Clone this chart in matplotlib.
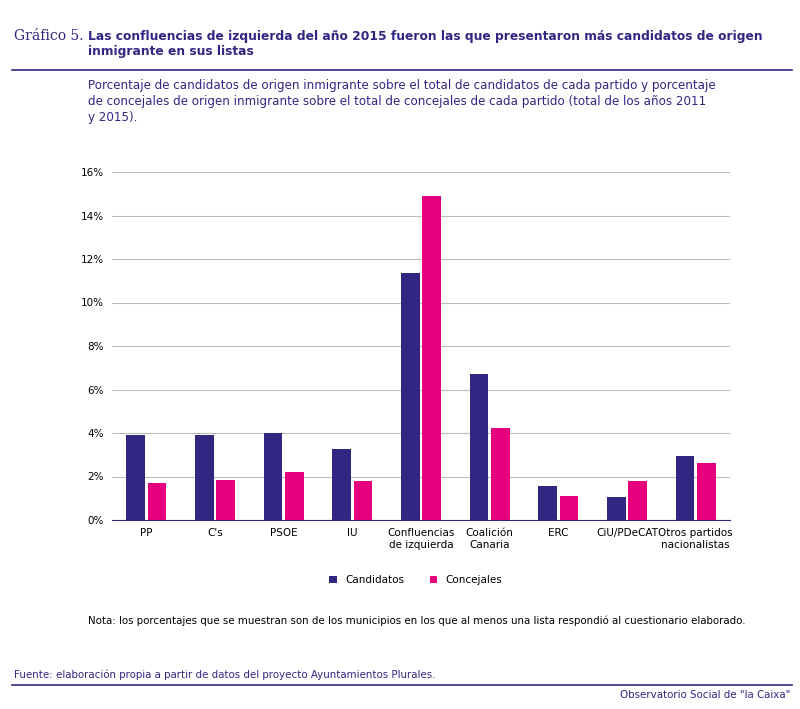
import matplotlib.pyplot as plt
import numpy as np
from matplotlib.lines import Line2D

partidos = ["PP", "C's", "PSOE", "IU", "Confluencias\nde izquierda", "Coalición\nCanaria",
            "ERC", "CiU/PDeCAT", "Otros partidos\nnacionalistas"]
candidatos = [3.9, 3.9, 4.0, 3.25, 11.35, 6.7, 1.55, 1.05, 2.95]
concejales = [1.7, 1.85, 2.2, 1.8, 14.9, 4.25, 1.1, 1.8, 2.6]
yticks = [0, 2, 4, 6, 8, 10, 12, 14, 16]

navy = "#312783"
magenta = "#e6007e"
W, H = 800, 709

fig = plt.figure(figsize=(8, 7.09), dpi=100)
ax = fig.add_axes([112 / W, 1 - 520 / H, 618 / W, 348 / H])

x = np.arange(len(partidos))
w = 0.27
ax.bar(x - w / 2 - 0.02, candidatos, w, color=navy, label="Candidatos")
ax.bar(x + w / 2 + 0.02, concejales, w, color=magenta, label="Concejales")
ax.set_ylim(0, 16)
ax.set_xlim(-0.5, len(partidos) - 0.5)
ax.set_yticks(yticks)
ax.set_yticklabels([f"{v}%" for v in yticks], fontsize=7.5)
ax.set_xticks(x)
ax.set_xticklabels(partidos, fontsize=7.5)
ax.tick_params(length=0, pad=6)
ax.grid(axis="y", color="#bbbbbb", lw=0.8)
ax.set_axisbelow(True)
for s in ["top", "right", "left"]:
    ax.spines[s].set_visible(False)
ax.spines["bottom"].set_color(navy)

fig.legend(loc="center", bbox_to_anchor=(0.52, 1 - 580 / H), ncol=2, frameon=False,
           fontsize=7.5, handlelength=0.7, handleheight=0.7, columnspacing=2.5)

def hline(y, x0=12 / W, x1=792 / W):
    fig.add_artist(Line2D([x0, x1], [1 - y / H, 1 - y / H], color=navy, lw=1.2))

fig.text(14 / W, 1 - 36 / H, "Gráfico 5.", fontsize=10, family="DejaVu Serif", color=navy, va="center")
fig.text(88 / W, 1 - 44 / H, "Las confluencias de izquierda del año 2015 fueron las que presentaron más candidatos de origen\ninmigrante en sus listas",
         fontsize=8.8, weight="bold", color=navy, va="center", linespacing=1.15)
hline(70)
fig.text(88 / W, 1 - 102 / H, "Porcentaje de candidatos de origen inmigrante sobre el total de candidatos de cada partido y porcentaje\nde concejales de origen inmigrante sobre el total de concejales de cada partido (total de los años 2011\ny 2015).",
         fontsize=8.6, color=navy, va="center", linespacing=1.3)
fig.text(88 / W, 1 - 621 / H, "Nota: los porcentajes que se muestran son de los municipios en los que al menos una lista respondió al cuestionario elaborado.",
         fontsize=7.4, color="black", va="center")
fig.text(14 / W, 1 - 675 / H, "Fuente: elaboración propia a partir de datos del proyecto Ayuntamientos Plurales.",
         fontsize=7.4, color=navy, va="center")
hline(685)
fig.text(790 / W, 1 - 695 / H, "Observatorio Social de \"la Caixa\"", fontsize=7.4, color=navy, va="center", ha="right")

fig.savefig("out.png", dpi=100)
